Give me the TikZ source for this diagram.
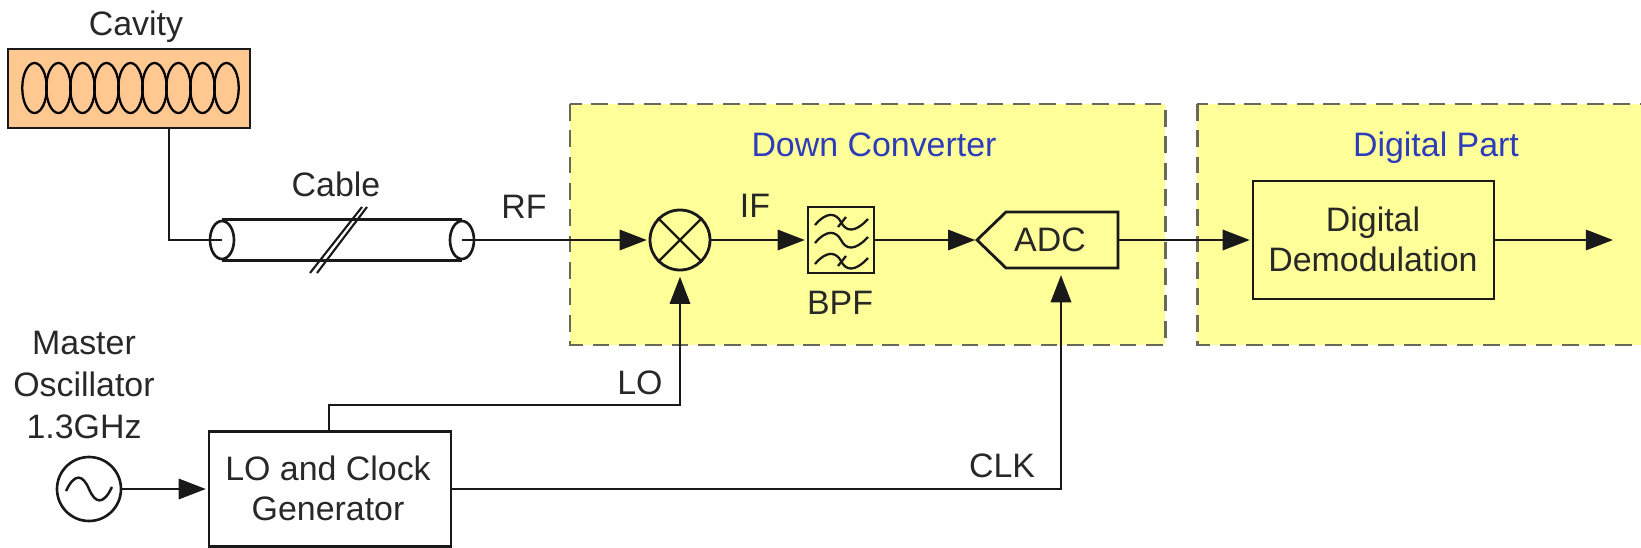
\documentclass[tikz,border=0pt]{standalone}
\usepackage{fontspec}
\setmainfont{Liberation Sans}
\usetikzlibrary{positioning,calc}
\usetikzlibrary{arrows.meta,shapes.geometric}
\definecolor{CavOrange}{RGB}{255,200,145}
\definecolor{PartYellow}{RGB}{255,255,153}
\definecolor{DashGray}{RGB}{105,105,90}
\definecolor{TitleBlue}{RGB}{45,60,185}
\definecolor{InkGray}{RGB}{40,40,40}
\tikzset{
  wire/.style={draw=black!90,line width=1.6pt},
  sig/.style={wire,-{Triangle[length=15.5pt,width=11.5pt]},shorten >=1pt},
  block/.style={draw=black!90,line width=1.6pt,inner sep=0pt,align=center},
  part/.style={draw=DashGray,fill=PartYellow,line width=1.7pt,dash pattern=on 9.5pt off 5.5pt},
  lab/.style={font=\fontsize{19.3}{22}\selectfont,text=InkGray,inner sep=0pt,align=center},
  title/.style={lab,text=TitleBlue},
  coil/.style={ellipse,draw=black,line width=1.3pt,minimum width=0.49cm,minimum height=1cm,inner sep=0pt},
  cableend/.style={ellipse,draw=black!90,line width=1.5pt,minimum width=0.48cm,minimum height=0.76cm,inner sep=0pt},
  thin wave/.style={draw=black!90,line width=1.3pt},
}
\begin{document}
\begin{tikzpicture}[x=0.02cm,y=-0.02cm]
\useasboundingbox (0,0) rectangle (1641,548);
\draw[part] (570,104) rectangle (1165,345);
\draw[part] (1197,104) rectangle (1660,345);
\node[title] (dctitle) at (874,145) {Down Converter};
\node[title] (dptitle) at (1436,148) {Digital Part};
\node[block,fill=CavOrange,minimum width=4.84cm,minimum height=1.58cm] (cavity) at (129,88.5) {};
\foreach \i in {0,...,8}
  \node[coil] (coil\i) at ({34.5+24*\i},88) {};
\node[lab] (cavitylab) at (136,27) {Cavity};
\node[cableend] (cableL) at (222,240) {};
\node[cableend] (cableR) at (462,240) {};
\draw[wire,line width=1.4pt] (cableL.north)--(cableR.north);
\draw[wire,line width=1.4pt] (cableL.south)--(cableR.south);
\draw[wire,line width=1.2pt] (310,273)--(362,207);
\draw[wire,line width=1.2pt] (317,273)--(367,207);
\node[lab] (cablelab) at (336,184) {Cable};
\draw[wire] (cavity.south -| 169,0)--(169,240)--(cableL.center);
\node[circle,draw=black!90,line width=1.6pt,minimum size=1.2cm,inner sep=0pt] (mixer) at (680,240) {};
\draw[wire,line width=1.4pt] (mixer.45)--(mixer.225);
\draw[wire,line width=1.4pt] (mixer.135)--(mixer.315);
\draw[sig] (cableR.center)--(mixer.west);
\node[lab] (rflab) at (524,207) {RF};
\node[block,minimum size=1.32cm] (bpf) at (841,240) {};
\foreach \yy in {-18,0,21}
  \draw[thin wave] ($(bpf.center)+(-26,\yy+3)$) .. controls ($(bpf.center)+(-14,\yy-11)$) and ($(bpf.center)+(-5,\yy-9)$) .. ($(bpf.center)+(0,\yy)$) .. controls ($(bpf.center)+(5,\yy+10)$) and ($(bpf.center)+(14,\yy+11)$) .. ($(bpf.center)+(27,\yy-3)$);
\draw[thin wave] ($(bpf.center)+(-3,-13)$)--($(bpf.center)+(5,-23)$);
\draw[thin wave] ($(bpf.center)+(-3,26)$)--($(bpf.center)+(5,16)$);
\node[lab] (bpflab) at (840,303) {BPF};
\draw[sig] (mixer.east)--(bpf.west);
\node[lab] (iflab) at (755,206) {IF};
\coordinate (adctip) at (977,240);
\coordinate (adcclk) at (1061,268);
\coordinate (adcout) at (1118,240);
\draw[block,fill=PartYellow] (adctip)--(1006,212)--(1118,212)--(1118,268)--(1006,268)--cycle;
\node[lab] (adclab) at (1050,240) {ADC};
\draw[sig] (bpf.east)--(adctip);
\node[block,minimum width=4.82cm,minimum height=2.36cm] (demod) at (1373.5,240) {};
\node[lab] (demodlab) at (1373,239) {Digital\\[0.7pt]Demodulation};
\draw[sig] (adcout)--(demod.west);
\coordinate (outend) at (1613,240);
\draw[sig,shorten >=0pt] (demod.east)--(outend);
\node[lab] (msolab) at (84,385) {Master\\[1.8pt]Oscillator\\[1.8pt]1.3GHz};
\node[circle,draw=black!90,line width=1.5pt,minimum size=1.28cm,inner sep=0pt] (osc) at (89,489) {};
\draw[wire,line width=1.4pt] ($(osc.center)+(-23,2)$) .. controls ($(osc.center)+(-14,-17)$) and ($(osc.center)+(-6,-14)$) .. (osc.center) .. controls ($(osc.center)+(6,14)$) and ($(osc.center)+(14,17)$) .. ($(osc.center)+(23,-2)$);
\node[block,minimum width=4.84cm,minimum height=2.3cm] (gen) at (330,489) {};
\node[lab] (genlab) at (328,488) {LO and Clock\\[0.7pt]Generator};
\draw[sig] (osc.east)--(gen.west);
\coordinate (lotop) at (329,431);
\draw[sig,shorten >=3pt] (lotop)--(329,405)--(680,405)--(mixer.south);
\node[lab] (lolab) at (640,383) {LO};
\draw[sig,shorten >=4pt] (gen.east)--(1061,489)--(adcclk);
\node[lab] (clklab) at (1002,466) {CLK};
\end{tikzpicture}
\end{document}
